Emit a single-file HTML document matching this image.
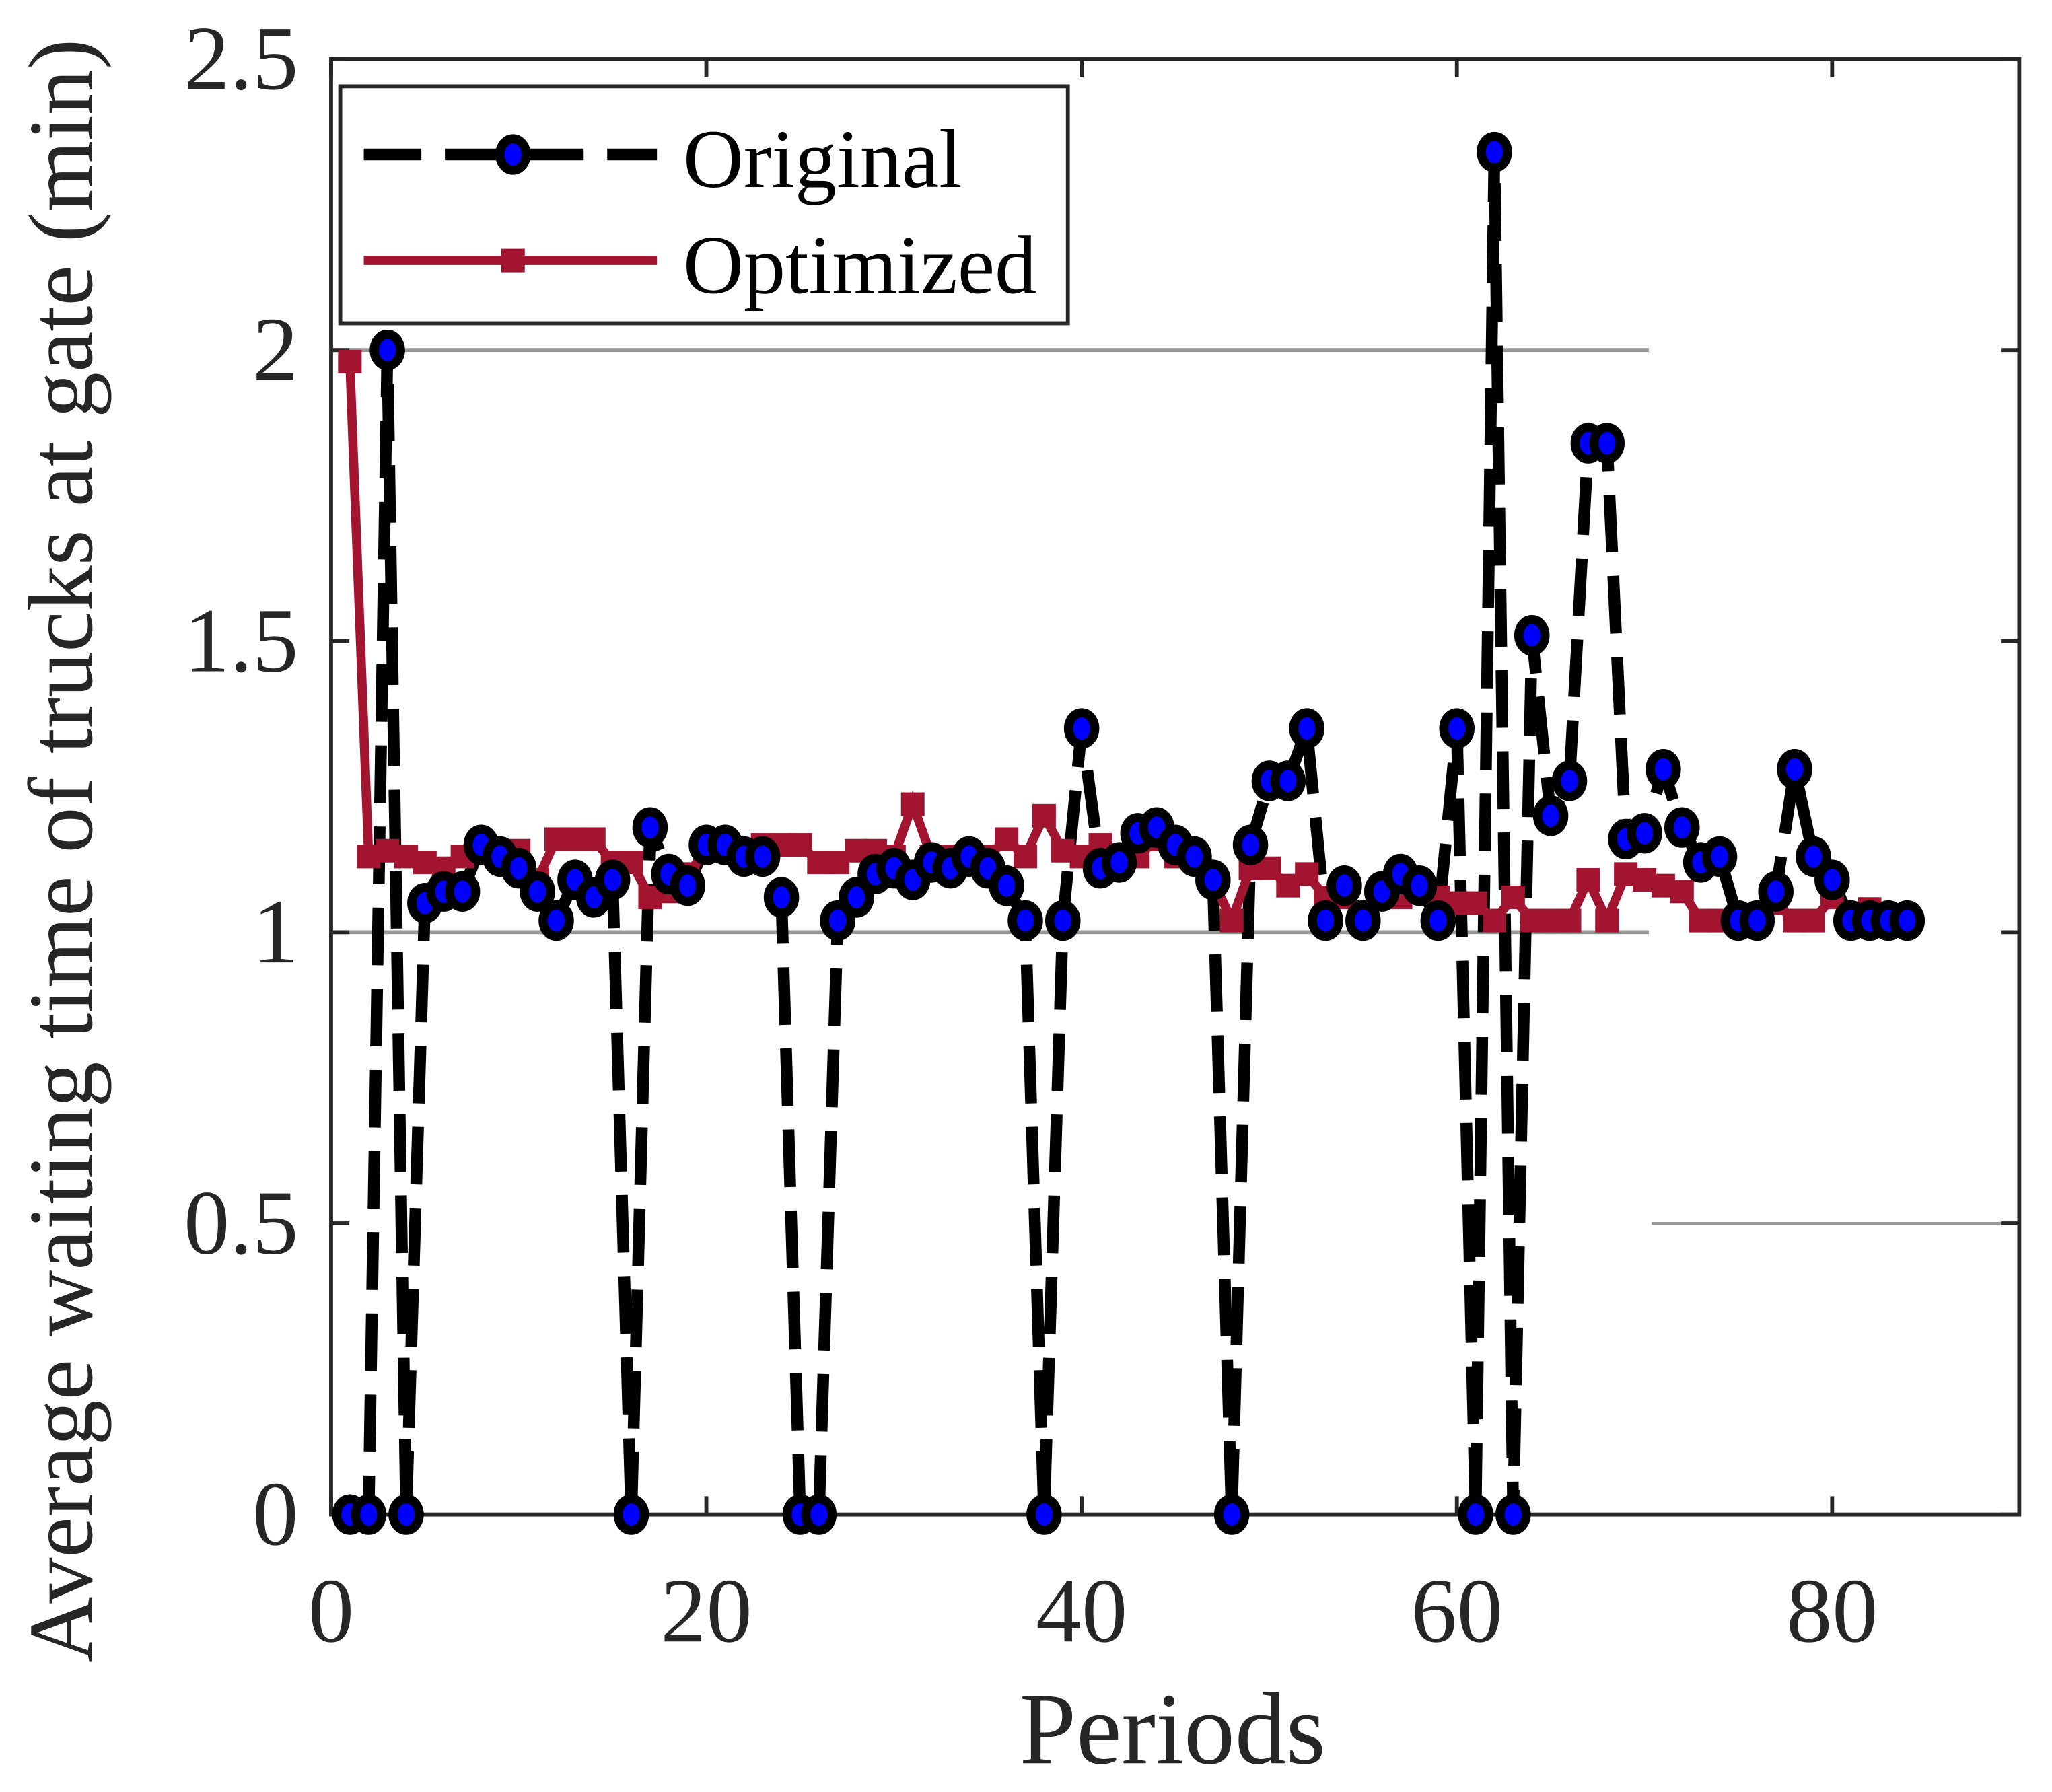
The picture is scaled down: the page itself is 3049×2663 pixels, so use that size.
<!DOCTYPE html>
<html><head><meta charset="utf-8"><style>html,body{margin:0;padding:0;background:#fff}svg{display:block}</style></head>
<body>
<svg width="3049" height="2663" viewBox="0 0 1568 1369" preserveAspectRatio="none" xmlns="http://www.w3.org/2000/svg" font-family="'Liberation Serif', serif">
<g id="root"></g>
</svg>
<script>
const periods = [];
for (let i = 1; i <= 84; i++) periods.push(i);
const originalValues = [0,0,2.0,0,1.05,1.07,1.07,1.15,1.13,1.11,1.07,1.02,1.09,1.06,1.09,0,1.18,1.10,1.08,1.15,1.15,1.13,1.13,1.06,0,0,1.02,1.06,1.10,1.11,1.09,1.12,1.11,1.13,1.11,1.08,1.02,0,1.02,1.35,1.11,1.12,1.17,1.18,1.15,1.13,1.09,0,1.15,1.26,1.26,1.35,1.02,1.08,1.02,1.07,1.10,1.08,1.02,1.35,0,2.34,0,1.51,1.20,1.26,1.84,1.84,1.16,1.17,1.28,1.18,1.12,1.13,1.02,1.02,1.07,1.28,1.13,1.09,1.02,1.02,1.02,1.02];
const optimizedValues = [1.98,1.13,1.14,1.13,1.12,1.11,1.13,1.14,1.14,1.14,1.09,1.16,1.16,1.16,1.12,1.12,1.06,1.07,1.10,1.14,1.14,1.14,1.15,1.15,1.15,1.12,1.12,1.14,1.14,1.13,1.22,1.13,1.13,1.13,1.13,1.16,1.13,1.20,1.14,1.13,1.15,1.13,1.13,1.16,1.13,1.13,1.09,1.02,1.11,1.11,1.08,1.10,1.06,1.06,1.02,1.06,1.06,1.08,1.06,1.05,1.05,1.02,1.06,1.02,1.02,1.02,1.09,1.02,1.10,1.09,1.08,1.07,1.02,1.02,1.02,1.02,1.05,1.02,1.02,1.06,1.02,1.04,1.02,1.02];
const xTicks = [0,20,40,60,80];
const yTicks = [0,0.5,1,1.5,2,2.5];
const yTickLabels = ['0','0.5','1','1.5','2','2.5'];

const L=253,R=1543,T=45,B=1157;
const xs = v => L + v*(1400-253)/80;
const ys = v => B - v*(B-T)/2.5;
const NS='http://www.w3.org/2000/svg';
const root=document.getElementById('root');
function mk(tag, attrs, parent){const e=document.createElementNS(NS,tag);for(const k in attrs)e.setAttribute(k,attrs[k]);(parent||root).appendChild(e);return e;}

let g;
g=mk('line',{x1:L,x2:1260,y1:ys(2),y2:ys(2),stroke:'#999',"stroke-width":3});


g=mk('line',{x1:L,x2:1260,y1:ys(1),y2:ys(1),stroke:'#999',"stroke-width":3});


g=mk('line',{x1:1262,x2:R,y1:ys(0.5),y2:ys(0.5),stroke:'#999',"stroke-width":2});



const box=mk('rect',{x:L,y:T,width:R-L,height:B-T,fill:'none',stroke:'#262626',"stroke-width":3});



xTicks.forEach(t=>{
  mk('line',{x1:xs(t),x2:xs(t),y1:B,y2:B-14,stroke:'#262626',"stroke-width":3});
  mk('line',{x1:xs(t),x2:xs(t),y1:T,y2:T+14,stroke:'#262626',"stroke-width":3});
  const tx=mk('text',{x:xs(t),y:B+97,"font-size":70,"text-anchor":'middle',fill:'#262626'});
  tx.textContent=t;
  
  
});
yTicks.forEach((t,i)=>{
  mk('line',{x1:L,x2:L+14,y1:ys(t),y2:ys(t),stroke:'#262626',"stroke-width":3});
  mk('line',{x1:R,x2:R-14,y1:ys(t),y2:ys(t),stroke:'#262626',"stroke-width":3});
  const tx=mk('text',{x:L-25,y:ys(t)+23,"font-size":70,"text-anchor":'end',fill:'#262626'});
  tx.textContent=yTickLabels[i];
  
  
});
let lab=mk('text',{x:896,y:1347,"font-size":78,"text-anchor":'middle',fill:'#262626'});
lab.textContent='Periods';


lab=mk('text',{x:0,y:0,"font-size":70,"text-anchor":'middle',fill:'#262626',transform:'translate(70,650) rotate(-90)'});
lab.textContent='Average waiting time of trucks at gate (min)';



const op=periods.map((p,i)=>xs(p)+','+ys(originalValues[i])).join(' ');
let ln=mk('polyline',{points:op,fill:'none',stroke:'#000',"stroke-width":9,"stroke-dasharray":'44 18'});


const pp=periods.map((p,i)=>xs(p)+','+ys(optimizedValues[i])).join(' ');
ln=mk('polyline',{points:pp,fill:'none',stroke:'#A2142F',"stroke-width":7});


periods.forEach((p,i)=>{
  const s=mk('rect',{x:xs(p)-9,y:ys(optimizedValues[i])-9,width:18,height:18,fill:'#A2142F'});
  
  
});
periods.forEach((p,i)=>{
  const c=mk('ellipse',{cx:xs(p),cy:ys(originalValues[i]),rx:10,ry:12,fill:'#0000ff',stroke:'#000',"stroke-width":7});
  
  
});

const lg=mk('g',{});


mk('rect',{x:260,y:66,width:556,height:181,fill:'#fff',stroke:'#262626',"stroke-width":3},lg);
mk('line',{x1:278,x2:502,y1:118,y2:118,stroke:'#000',"stroke-width":9,"stroke-dasharray":'44 18'},lg);
mk('ellipse',{cx:392,cy:118,rx:10,ry:12,fill:'#0000ff',stroke:'#000',"stroke-width":7},lg);
let t=mk('text',{x:522,y:143,"font-size":64,fill:'#000'},lg);
t.textContent='Original';


mk('line',{x1:278,x2:502,y1:199,y2:199,stroke:'#A2142F',"stroke-width":7},lg);
mk('rect',{x:383,y:190,width:18,height:18,fill:'#A2142F'},lg);
t=mk('text',{x:522,y:224,"font-size":64,fill:'#000'},lg);
t.textContent='Optimized';


</script>
</body></html>
